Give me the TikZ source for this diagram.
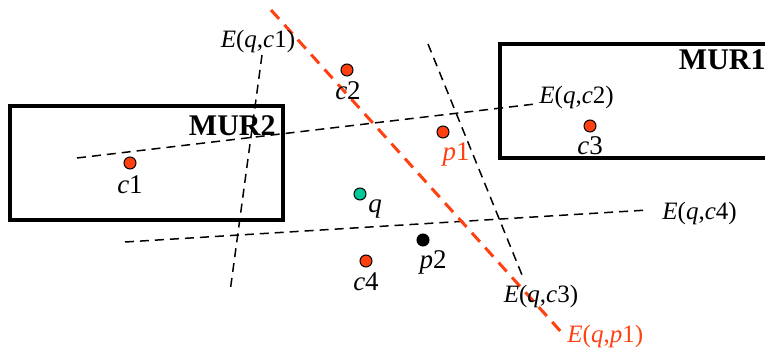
\documentclass[tikz,border=0pt]{standalone}
\usepackage{fontspec}
\setmainfont{Liberation Serif}
\usetikzlibrary{positioning}

\definecolor{ptred}{RGB}{255,64,16}
\definecolor{qteal}{RGB}{0,200,150}
\newcommand{\ptname}[2]{\textit{#1}#2}
\newcommand{\Elbl}[2]{\textit{E}(\textit{q},\textit{#1}#2)}

\begin{document}
\begin{tikzpicture}[
  x=0.5pt,y=-0.5pt,
  mur/.style={draw,line width=2pt},
  murname/.style={font=\fontsize{15}{15}\selectfont\bfseries,inner sep=1pt},
  pt/.style={circle,draw=black,line width=0.5pt,inner sep=0pt,minimum size=6pt},
  ptlbl/.style={font=\fontsize{13.5}{14}\selectfont,inner sep=1pt},
  elbl/.style={font=\fontsize{12.5}{13}\selectfont,inner sep=1pt},
  bisect/.style={draw,line width=0.75pt,dash pattern=on 4.5pt off 3pt},
  bisectred/.style={draw=ptred,line width=1.5pt,dash pattern=on 6pt off 4pt}
]
\useasboundingbox (0,0) rectangle (765,351);
\clip (0,0) rectangle (765,351);
% boxes
\draw[mur] (10,106) rectangle (283,220);
\draw[mur] (500,44) rectangle (790,158);
\node[murname,anchor=north east] (mur2) at (278,113) {MUR2};
\node[murname,anchor=north east] (mur1) at (768,47) {MUR1};
% bisector end points
\coordinate (a1) at (262,55);  \coordinate (b1) at (230,292);
\coordinate (a2) at (77,158);  \coordinate (b2) at (535,104);
\coordinate (a3) at (428,44);  \coordinate (b3) at (522,275);
\coordinate (a4) at (125,242); \coordinate (b4) at (648,210);
\coordinate (ap) at (271,10);  \coordinate (bp) at (563,334);
\path[bisect] (a1) -- (b1);
\path[bisect] (a2) -- (b2);
\path[bisect] (a3) -- (b3);
\path[bisect] (a4) -- (b4);
\path[bisectred] (ap) -- (bp);
\node[elbl,above=0pt of a1,xshift=-2pt] (e1) {\Elbl{c}{1}};
\node[elbl,anchor=south west] (e2) at (537,111) {\Elbl{c}{2}};
\node[elbl,below=4pt of b3,xshift=9.5pt] (e3) {\Elbl{c}{3}};
\node[elbl,anchor=west] (e4) at (660,213) {\Elbl{c}{4}};
\node[elbl,anchor=west,text=ptred] (ep) at (565,336) {\Elbl{p}{1}};
% points
\node[pt,fill=ptred] (c1) at (130,163) {};
\node[pt,fill=ptred] (c2) at (347,70) {};
\node[pt,fill=ptred] (c3) at (590,126) {};
\node[pt,fill=ptred] (c4) at (366,261) {};
\node[pt,fill=ptred] (p1) at (443,132) {};
\node[pt,fill=qteal] (q) at (360,194) {};
\node[pt,fill=black] (p2) at (423,240) {};
\node[ptlbl] at (130,185) {\ptname{c}{1}};
\node[ptlbl] at (348,91) {\ptname{c}{2}};
\node[ptlbl] at (590,146) {\ptname{c}{3}};
\node[ptlbl] at (366,282) {\ptname{c}{4}};
\node[ptlbl,text=ptred] at (456,154) {\ptname{p}{1}};
\node[ptlbl] at (375,209) {\ptname{q}{}};
\node[ptlbl] at (433,262) {\ptname{p}{2}};
\end{tikzpicture}
\end{document}
